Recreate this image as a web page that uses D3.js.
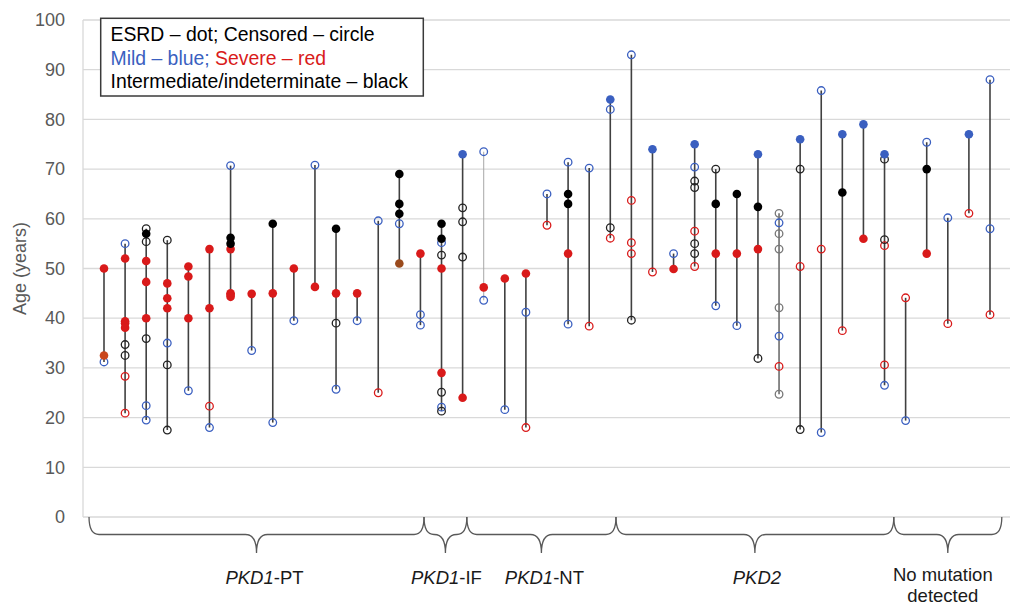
<!DOCTYPE html>
<html><head><meta charset="utf-8">
<script src="https://cdn.jsdelivr.net/npm/d3@7"></script>
<style>body{margin:0;background:#fff}svg{display:block;font-family:"Liberation Sans",Arial,sans-serif}</style>
</head><body><svg id="c" width="1020" height="606"></svg>
<script>
// ---- data ----
const columnCount = 43;
const yTicks = [0,10,20,30,40,50,60,70,80,90,100];
const groupNames = ["PKD1-PT","PKD1-IF","PKD1-NT","PKD2","No mutation detected"];
const groupFirst = [0,16,18,25,38];
const groupLast  = [15,17,24,37,42];
const legendLines = ["ESRD – dot; Censored – circle","Mild – blue; ","Severe – red","Intermediate/indeterminate – black"];

// [column, age]
const mildESRD = [[17,73],[24,84],[26,74],[28,75],[31,73],[33,76],[35,77],[36,79],[37,73],[41,77]];
const mildCensored = [[0,31.2],[1,55],[2,22.4],[2,19.5],[3,35],[4,25.4],[5,18],[6,70.7],[7,33.5],[8,19],[9,39.5],[10,70.8],[11,25.7],[12,39.5],[13,59.6],[14,59],[15,40.7],[15,38.6],[16,55.2],[16,22.1],[18,73.5],[18,43.6],[19,21.6],[20,41.2],[21,65],[22,71.4],[22,38.8],[23,70.2],[24,82],[25,93],[27,53],[28,70.4],[29,42.5],[30,38.5],[32,59.2],[32,36.4],[34,85.8],[34,17],[37,26.5],[38,19.4],[39,75.4],[40,60.2],[42,88],[42,58]];
const severeESRD = [[0,50],[1,52],[1,39.4],[1,39],[1,38.1],[2,51.5],[2,47.3],[2,40],[3,47],[3,44],[3,42],[4,50.4],[4,48.4],[4,40],[5,53.9],[5,42],[6,53.9],[6,45],[6,44.7],[6,44.3],[7,44.9],[8,45],[9,50],[10,46.3],[11,45],[12,45],[15,53],[16,50],[16,29],[17,24],[18,46.2],[19,48],[20,49],[22,53],[27,49.9],[29,53],[30,53],[31,53.9],[36,56],[39,53]];
const severeCensored = [[1,28.3],[1,20.9],[5,22.3],[13,25],[20,18],[21,58.7],[23,38.4],[24,56.1],[25,63.7],[25,55.2],[25,53],[26,49.3],[28,57.5],[28,50.4],[32,30.3],[33,50.4],[34,53.9],[35,37.5],[37,54.6],[37,30.6],[38,44.1],[40,38.9],[41,61.1],[42,40.7]];
const interESRD = [[2,57],[6,56.2],[6,55],[8,59],[11,58],[14,69],[14,63],[14,61],[16,59],[16,56],[22,65],[22,63],[29,63],[30,65],[31,62.4],[35,65.3],[39,70]];
const interCensored = [[1,34.7],[1,32.5],[2,58],[2,55.4],[2,35.9],[3,55.7],[3,30.6],[3,17.5],[11,39],[16,52.7],[16,25.1],[16,21.3],[17,62.2],[17,59.4],[17,52.3],[24,58.2],[25,39.6],[28,67.6],[28,66.3],[28,55],[28,53],[29,70],[31,31.9],[33,70],[33,17.6],[37,72],[37,55.8]];
const grayCensored = [[32,61.1],[32,57],[32,53.9],[32,42.1],[32,24.7]];
const mixedESRD = [[0,32.5],[14,51]];
const lightLineColumns = [18];
const grayLineColumns = [32];

// ---- styles / layout ----
const BLUE = "#3a5fc0", RED = "#d91a1a", GRID = "#d9d9d9", TXT = "#595959";
const mixedColors = ["#c9461c","#9a4a1c"];
const braceEdges = [-0.71, 15.17, 17.2, 24.27, 37.44, 42.56]; // in column units
const labelShift = [8, 1, 3, 2, -5];

const svg = d3.select("#c");
const x = d3.scaleLinear().domain([0, columnCount - 1]).range([104, 990]);
const y = d3.scaleLinear().domain([0, 100]).range([517, 20]);
const left = 83, right = 1010;

// grid
svg.append("g").selectAll("line").data(yTicks).join("line")
  .attr("x1", left).attr("x2", right).attr("y1", d => y(d)).attr("y2", d => y(d))
  .attr("stroke", GRID).attr("stroke-width", 1.3);
svg.append("line").attr("x1", left).attr("x2", left).attr("y1", y(100)).attr("y2", y(0))
  .attr("stroke", GRID).attr("stroke-width", 1.3);

// y axis
const ax = svg.append("g").attr("transform", `translate(${left},0)`)
  .call(d3.axisLeft(y).tickValues(yTicks).tickSize(0).tickPadding(18));
ax.select(".domain").remove();
ax.selectAll("text").attr("font-size", 18).attr("fill", TXT)
  .attr("font-family", '"Liberation Sans",Arial,sans-serif');
svg.append("text").attr("transform", `translate(26,${y(50)}) rotate(-90)`)
  .attr("text-anchor", "middle").attr("font-size", 18).attr("fill", TXT).text("Age (years)");

// vertical lines per column
const all = [].concat(mildESRD, mildCensored, severeESRD, severeCensored, interESRD, interCensored, grayCensored, mixedESRD);
const cols = d3.rollups(all, v => d3.extent(v, d => d[1]), d => d[0]);
svg.append("g").selectAll("line").data(cols).join("line")
  .attr("x1", d => x(d[0])).attr("x2", d => x(d[0]))
  .attr("y1", d => y(d[1][0])).attr("y2", d => y(d[1][1]))
  .attr("stroke", d => lightLineColumns.includes(d[0]) ? "#a8a8a8" : grayLineColumns.includes(d[0]) ? "#6e6e6e" : "#404040")
  .attr("stroke-width", d => lightLineColumns.includes(d[0]) ? 1 : 1.6);

function dots(data, color) {
  svg.append("g").selectAll("circle").data(data).join("circle")
    .attr("cx", d => x(d[0])).attr("cy", d => y(d[1])).attr("r", 4.3)
    .attr("fill", color);
}
function rings(data, color) {
  svg.append("g").selectAll("circle").data(data).join("circle")
    .attr("cx", d => x(d[0])).attr("cy", d => y(d[1])).attr("r", 3.8)
    .attr("fill", "none").attr("stroke", color).attr("stroke-width", 1.3);
}
rings(mildCensored, BLUE);
rings(severeCensored, RED);
rings(interCensored, "#222");
rings(grayCensored, "#777");
dots(severeESRD, RED);
dots(mildESRD, BLUE);
dots(interESRD, "#000");
svg.append("g").selectAll("circle").data(mixedESRD).join("circle")
  .attr("cx", d => x(d[0])).attr("cy", d => y(d[1])).attr("r", 4.3)
  .attr("fill", (d, i) => mixedColors[i]);

// braces
const yT = 517, yM = 534.5, yB = 553;
groupNames.forEach((name, i) => {
  const x0 = x(braceEdges[i]);
  const x1 = x(braceEdges[i + 1]);
  const xm = (x0 + x1) / 2, r = 10, rm = 11;
  const p = d3.path();
  p.moveTo(x0, yT);
  p.quadraticCurveTo(x0, yM, x0 + r, yM);
  p.lineTo(xm - rm, yM);
  p.quadraticCurveTo(xm, yM, xm, yB);
  p.quadraticCurveTo(xm, yM, xm + rm, yM);
  p.lineTo(x1 - r, yM);
  p.quadraticCurveTo(x1, yM, x1, yT);
  svg.append("path").attr("d", p.toString()).attr("fill", "none")
    .attr("stroke", "#595959").attr("stroke-width", 1.3);
  const lx = xm + labelShift[i];
  const t = svg.append("text").attr("x", lx).attr("y", 584).attr("text-anchor", "middle")
    .attr("font-size", 18.5).attr("fill", "#1a1a1a");
  if (name.startsWith("PKD1-")) {
    t.append("tspan").attr("font-style", "italic").text("PKD1");
    t.append("tspan").text(name.slice(4));
  } else if (name === "PKD2") {
    t.attr("font-style", "italic").text(name);
  } else {
    t.attr("y", 581);
    t.append("tspan").attr("x", lx).text("No mutation");
    t.append("tspan").attr("x", lx).attr("dy", 21).text("detected");
  }
});

// legend
svg.append("rect").attr("x", 100.7).attr("y", 18.3).attr("width", 322.6).attr("height", 77.7)
  .attr("fill", "#fff").attr("stroke", "#3a3a3a").attr("stroke-width", 1.5);
const lg = svg.append("g").attr("font-size", 19.4);
lg.append("text").attr("x", 110.5).attr("y", 41).attr("fill", "#000").text(legendLines[0]);
const l2 = lg.append("text").attr("x", 110.5).attr("y", 64.5).attr("xml:space", "preserve");
l2.append("tspan").attr("fill", BLUE).text(legendLines[1]);
l2.append("tspan").attr("fill", RED).text(legendLines[2]);
lg.append("text").attr("x", 110.5).attr("y", 88).attr("fill", "#000").text(legendLines[3]);
</script></body></html>
